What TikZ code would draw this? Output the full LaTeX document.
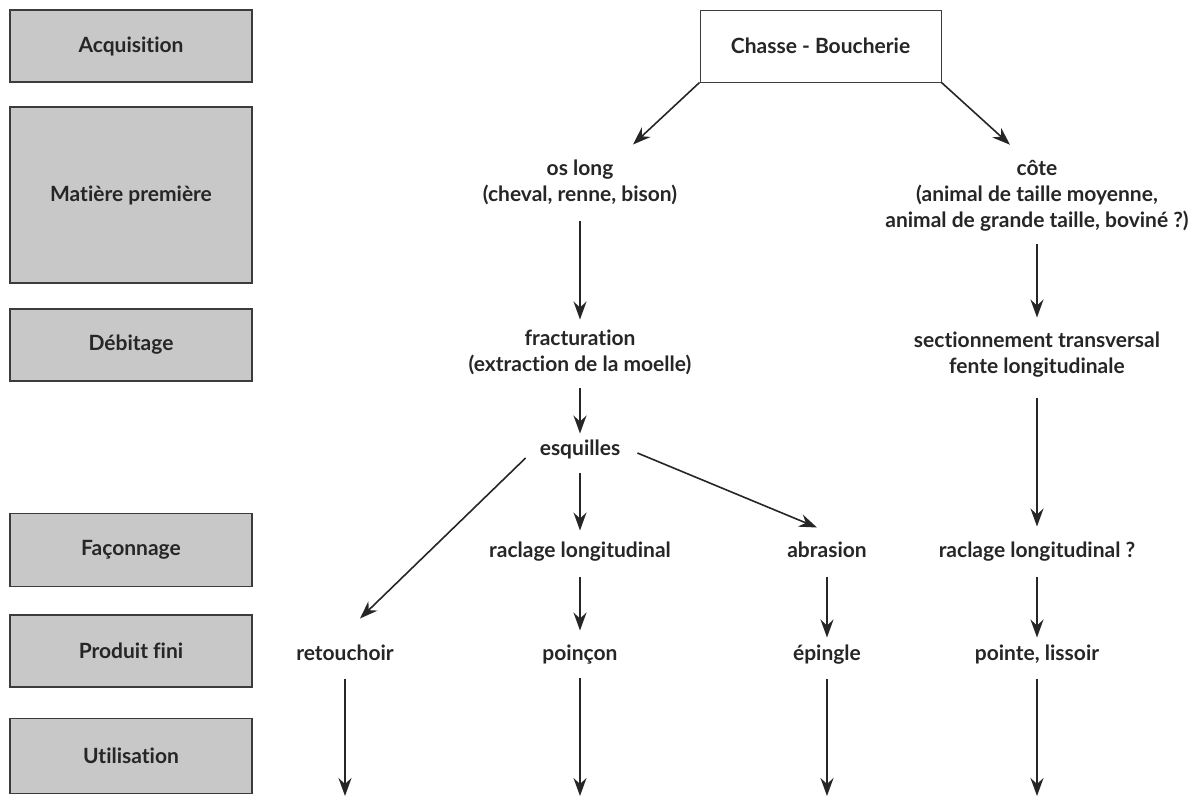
\documentclass[tikz,border=0pt]{standalone}
\usepackage{fontspec}
\setmainfont{Lato}[BoldFont={Lato Bold},RawFeature=-liga]
\usetikzlibrary{arrows.meta,calc}
\definecolor{boxgray}{RGB}{200,200,200}
\definecolor{linegray}{RGB}{60,60,60}
\begin{document}
\begin{tikzpicture}[x=1pt,y=-1pt,
  every node/.style={font=\fontsize{21}{26}\selectfont\bfseries, text=black!85},
  stage/.style={draw=linegray, line width=1.3pt, fill=boxgray, minimum width=242pt, inner sep=0pt},
  txt/.style={align=center, inner sep=0pt,
    execute at begin node={\rule{0pt}{15pt}},
    execute at end node={\rule[-5pt]{0pt}{5pt}}},
  flow/.style={-{Stealth[length=18pt,width=13pt,inset=6pt]}, line width=1.6pt, draw=black!85},
]
\useasboundingbox (0,0) rectangle (1195,796);
% left stage boxes
\node[stage, minimum height=72pt]  (s1) at (131,46)  {Acquisition};
\node[stage, minimum height=176pt] (s2) at (131,195) {Matière première};
\node[stage, minimum height=72pt]  (s3) at (131,345) {Débitage};
\node[stage, minimum height=73pt]  (s4) at (131,550) {Façonnage};
\node[stage, minimum height=72pt]  (s5) at (131,651) {Produit fini};
\node[stage, minimum height=75pt]  (s6) at (131,756) {Utilisation};
% top box
\node[draw=linegray, line width=1pt, fill=white, minimum width=241pt, minimum height=72pt, inner sep=0pt] (chasse) at (820.5,46) {Chasse - Boucherie};
% text nodes
\node[txt] (oslong) at (580,183) {os long\\(cheval, renne, bison)};
\node[txt] (cote) at (1037,196) {côte\\(animal de taille moyenne,\\animal de grande taille, boviné ?)};
\node[txt] (fract) at (580,353) {fracturation\\(extraction de la moelle)};
\node[txt] (sect) at (1037,355) {sectionnement transversal\\fente longitudinale};
\node[txt] (esq) at (580,450) {esquilles};
\node[txt] (racl) at (580,552) {raclage longitudinal};
\node[txt] (abr) at (827,552) {abrasion};
\node[txt] (raclq) at (1037,552) {raclage longitudinal ?};
\node[txt] (retouch) at (345,655) {retouchoir};
\node[txt] (poinc) at (580,655) {poinçon};
\node[txt] (eping) at (827,655) {épingle};
\node[txt] (pointe) at (1037,655) {pointe, lissoir};
% free ends at the bottom
\coordinate (u1) at (345,796);
\coordinate (u2) at (580,796);
\coordinate (u3) at (827,796);
\coordinate (u4) at (1037,796);
% connectors
\draw[flow] (chasse.south west) -- ([xshift=53pt,yshift=15pt]oslong.north);
\draw[flow] (chasse.south east) -- ([xshift=-27pt,yshift=15pt]cote.north);
\draw[flow, shorten <=14pt, shorten >=10pt] (oslong.south) -- (fract.north);
\draw[flow, shorten <=12pt, shorten >=6pt] (fract.south) -- (esq.north);
\draw[flow, shorten <=12pt, shorten >=11pt] (esq.south) -- (racl.north);
\draw[flow] ([xshift=-14pt,yshift=-8pt]esq.west) -- ([xshift=15pt,yshift=26pt]retouch.north);
\draw[flow] ([xshift=17pt,yshift=-3pt]esq.east) -- ([xshift=-10pt,yshift=14pt]abr.north);
\draw[flow, shorten <=14pt, shorten >=14pt] (racl.south) -- (poinc.north);
\draw[flow, shorten <=14pt, shorten >=7pt] (abr.south) -- (eping.north);
\draw[flow, shorten <=12pt, shorten >=14pt] (cote.south) -- (sect.north);
\draw[flow, shorten <=19pt, shorten >=15pt] (sect.south) -- (raclq.north);
\draw[flow, shorten <=14pt, shorten >=7pt] (raclq.south) -- (pointe.north);
\draw[flow, shorten <=13pt] (retouch.south) -- (u1);
\draw[flow, shorten <=13pt] (poinc.south) -- (u2);
\draw[flow, shorten <=13pt] (eping.south) -- (u3);
\draw[flow, shorten <=13pt] (pointe.south) -- (u4);
\end{tikzpicture}
\end{document}
